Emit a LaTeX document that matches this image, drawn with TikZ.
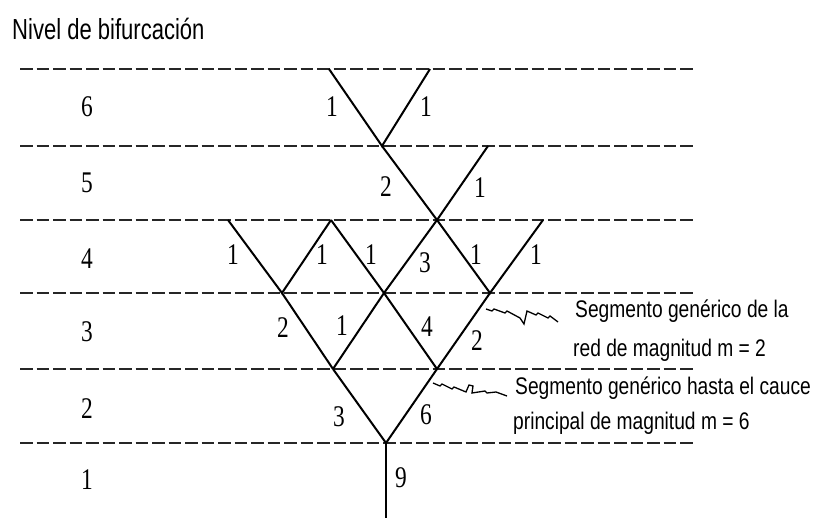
\documentclass[tikz,border=0pt]{standalone}
\usepackage{fontspec}
\newfontfamily\sansnarrow[FakeStretch=0.8]{Liberation Sans}
\newfontfamily\titlenarrow[FakeStretch=0.76]{Liberation Sans}
\newfontfamily\serifnarrow[FakeStretch=0.78]{Liberation Serif}
\begin{document}
\begin{tikzpicture}[x=1pt,y=-1pt,
  levelline/.style={draw=black!85, line width=1.7pt, dash pattern=on 12.5pt off 4pt},
  branch/.style={draw=black, line width=2pt},
  bolt/.style={draw=black, line width=1.3pt, line join=miter},
  num/.style={font=\serifnarrow\fontsize{30}{30}\selectfont, inner sep=0pt},
  lbl/.style={font=\sansnarrow\fontsize{24}{24}\selectfont, anchor=base west, inner sep=0pt},
  title/.style={font=\titlenarrow\fontsize{29}{29}\selectfont, anchor=base west, inner sep=0pt}]
\useasboundingbox[fill=white] (0,0) rectangle (814,518);

% title
\node[title] (title) at (12,40) {Nivel de bifurcación};

% level (dashed) lines
\foreach \yy in {69,146,220,293,369,443}
  \draw[levelline] (20,\yy) -- (695,\yy);

% level numbers
\node[num] (n6) at (87,107) {6};
\node[num] (n5) at (87,183) {5};
\node[num] (n4) at (87,259) {4};
\node[num] (n3) at (87,332) {3};
\node[num] (n2) at (87,409) {2};
\node[num] (n1) at (87,480) {1};

% junction points
\coordinate (r)   at (386,443);
\coordinate (out) at (386,518);
\coordinate (a2)  at (333,369);
\coordinate (b2)  at (437,369);
\coordinate (a3)  at (282,293);
\coordinate (c3)  at (384,293);
\coordinate (b3)  at (490,293);
\coordinate (a4)  at (228,220);
\coordinate (c4)  at (331,220);
\coordinate (d4)  at (437,220);
\coordinate (b4)  at (543,220);
\coordinate (a5)  at (382,146);
\coordinate (b5)  at (488,146);
\coordinate (a6)  at (329,69);
\coordinate (b6)  at (430,69);

% branches
\draw[branch] (r) -- (out);
\draw[branch] (a2) -- (r) -- (b2);
\draw[branch] (a3) -- (a2);
\draw[branch] (c4) -- (c3) -- (b2);
\draw[branch] (d4) -- (c3) -- (a2);
\draw[branch] (b3) -- (b2);
\draw[branch] (a4) -- (a3) -- (c4);
\draw[branch] (d4) -- (b3) -- (b4);
\draw[branch] (a5) -- (d4) -- (b5);
\draw[branch] (a6) -- (a5) -- (b6);

% branch magnitudes
\node[num] (m61) at (332,107) {1};
\node[num] (m62) at (426,107) {1};
\node[num] (m51) at (386,187) {2};
\node[num] (m52) at (480,188) {1};
\node[num] (m41) at (233,255) {1};
\node[num] (m42) at (322,255) {1};
\node[num] (m43) at (371,255) {1};
\node[num] (m44) at (425,263) {3};
\node[num] (m45) at (476,255) {1};
\node[num] (m46) at (536,255) {1};
\node[num] (m31) at (283,328) {2};
\node[num] (m32) at (342,326) {1};
\node[num] (m33) at (427,327) {4};
\node[num] (m34) at (477,341) {2};
\node[num] (m21) at (339,417) {3};
\node[num] (m22) at (426,415) {6};
\node[num] (m11) at (401,478) {9};

% annotations
\node[lbl] (t1) at (575,318) {Segmento genérico de la};
\node[lbl] (t2) at (573,357) {red de magnitud m = 2};
\node[lbl] (t3) at (515,395) {Segmento genérico hasta el cauce};
\node[lbl] (t4) at (513,430) {principal de magnitud m = 6};

% lightning connectors
\coordinate (z1s) at (486,309);
\coordinate (z1e) at (558,322);
\draw[bolt] (z1s) -- (492,311) -- (494,309) -- (505,313) -- (507,311) -- (520,318)
  -- (524,324) -- (527,311) -- (536,315) -- (538,313) -- (548,318) -- (550,316) -- (z1e);
\coordinate (z2s) at (433,383);
\coordinate (z2e) at (507,396);
\draw[bolt] (z2s) -- (440,386) -- (442,384) -- (452,389) -- (454,387) -- (466,392)
  -- (469,385) -- (473,386) -- (472,393) -- (485,391) -- (487,393) -- (496,392) -- (z2e);
\end{tikzpicture}
\end{document}
